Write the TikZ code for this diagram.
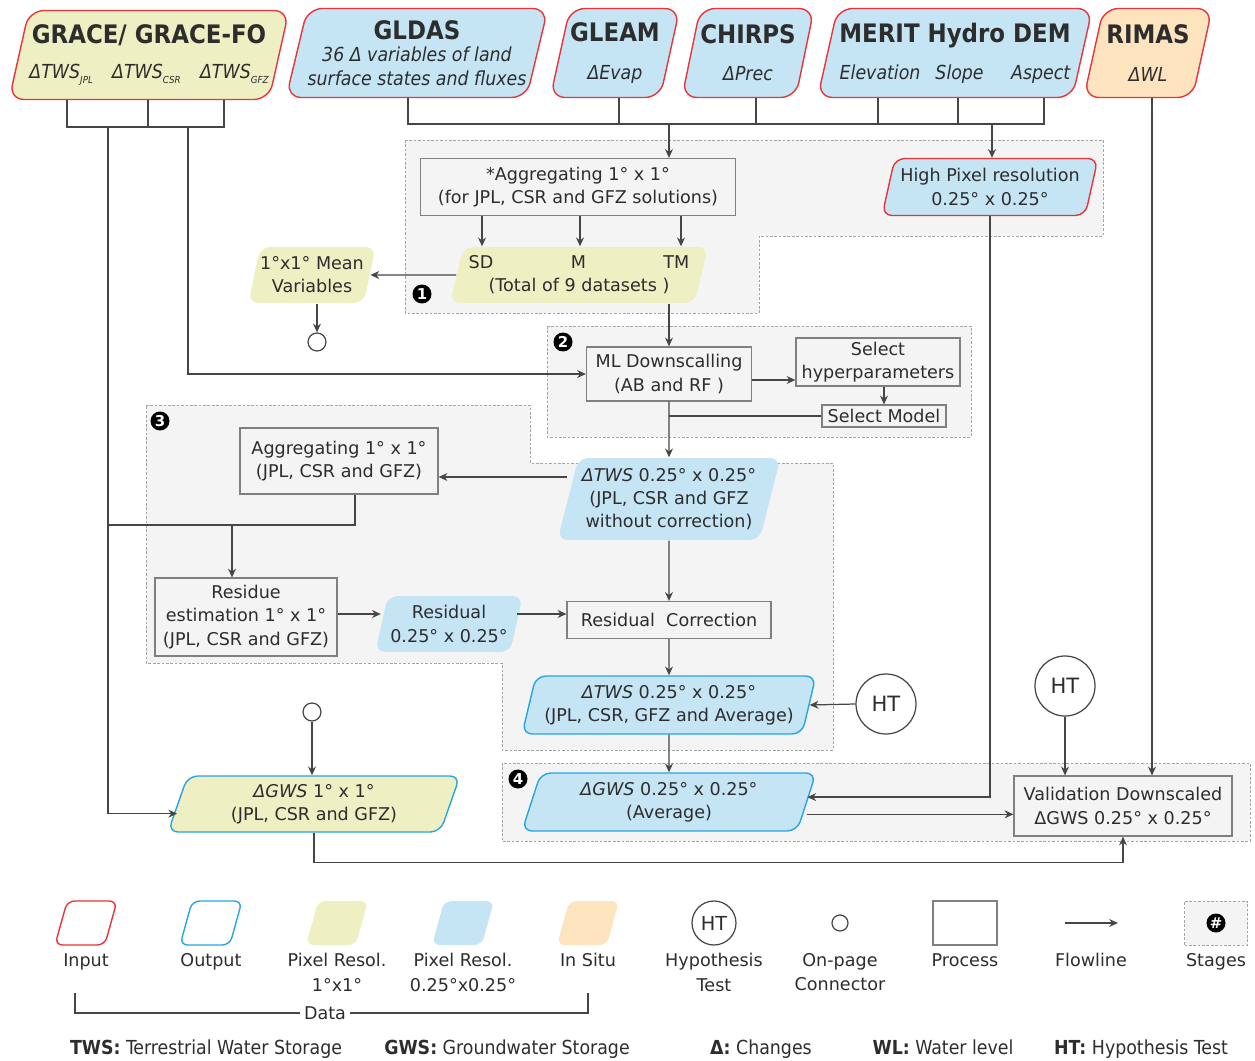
\documentclass[tikz,border=0pt]{standalone}
\usepackage{fontspec}
\setmainfont{DejaVu Sans}
\newfontfamily\condfont{DejaVu Sans Condensed}
\usepackage{tikz}
\usetikzlibrary{shapes.geometric, arrows.meta, positioning, calc}
\definecolor{inred}{RGB}{232,52,58}
\definecolor{outblue}{RGB}{38,166,226}
\definecolor{coarsefill}{RGB}{238,240,196}
\definecolor{finefill}{RGB}{197,229,245}
\definecolor{situfill}{RGB}{253,228,191}
\definecolor{procgray}{RGB}{128,128,128}
\definecolor{stagefill}{RGB}{244,244,244}
\definecolor{stagegray}{RGB}{165,165,165}
\definecolor{linegray}{RGB}{70,70,70}
\definecolor{textdark}{RGB}{45,45,45}

\newcommand{\bodyfont}{\fontsize{10}{13.2}\selectfont}
\newcommand{\titlefont}{\condfont\bfseries\fontsize{14.5}{17}\selectfont}
\newcommand{\subfont}{\condfont\itshape\fontsize{11}{13.2}\selectfont}
\newcommand{\legfont}{\condfont\fontsize{11}{13}\selectfont}
\newcommand{\solsub}[1]{\raisebox{-0.45ex}{\fontsize{5.5}{6}\selectfont #1}}

\begin{document}
\begin{tikzpicture}[
    x=0.02cm, y=-0.02cm,
    every node/.style={text=textdark, font=\bodyfont},
    datashape/.style={trapezium, trapezium left angle=72, trapezium right angle=108, trapezium stretches=true, rounded corners=2mm, align=center, inner sep=0pt, line width=0.8pt},
    topshape/.style={datashape, draw=inred, rounded corners=3mm, minimum height=1.78cm},
    inshape/.style={datashape, draw=inred},
    outshape/.style={datashape, draw=outblue},
    legshape/.style={rounded corners=1.5mm, inner sep=2pt, minimum width=1.24cm, minimum height=0.88cm},
    process/.style={rectangle, draw=procgray, line width=0.7pt, align=center, inner sep=1pt},
    hyptest/.style={circle, draw=linegray, line width=0.7pt, minimum size=1.2cm, inner sep=0pt, font=\fontsize{12}{14}\selectfont},
    pageconn/.style={circle, draw=linegray, line width=0.7pt, minimum size=0.36cm, inner sep=0pt},
    badge/.style={circle, fill=black, text=white, font=\bfseries\fontsize{8.5}{9}\selectfont, minimum size=0.38cm, inner sep=0pt},
    stage/.style={draw=stagegray, fill=stagefill, line width=0.5pt, dash pattern=on 1.5pt off 1pt},
    flow/.style={-{Stealth[length=5pt, width=4.5pt]}, line width=0.7pt, draw=linegray},
    link/.style={line width=0.7pt, draw=linegray},
    leglabel/.style={align=center, font=\fontsize{10}{14}\selectfont},
    abbrev/.style={anchor=base, font=\legfont}
]
\useasboundingbox (0,0) rectangle (1255,1061);

% Stages
\draw[stage] (405,140) -- (1103,140) -- (1103,236) -- (759,236) -- (759,313) -- (405,313) -- cycle;
\draw[stage] (547,326) rectangle (971,437);
\draw[stage] (146,405) -- (530,405) -- (530,463) -- (833,463) -- (833,750) -- (502,750) -- (502,663) -- (146,663) -- cycle;
\draw[stage] (502,763) rectangle (1250,841);
\node[badge] (badge1) at (422,294) {1};
\node[badge] (badge2) at (563,342) {2};
\node[badge] (badge3) at (160,421) {3};
\node[badge] (badge4) at (518,779) {4};

% Input data
\node[topshape, fill=coarsefill, minimum width=5.6cm] (grace) at (149,55) {{\titlefont GRACE/ GRACE-FO}\\[7pt]{\subfont ΔTWS\solsub{JPL}\quad ΔTWS\solsub{CSR}\quad ΔTWS\solsub{GFZ}}};
\node[topshape, fill=finefill, minimum width=5.24cm] (gldas) at (417,53) {{\titlefont GLDAS}\\[-0.5pt]{\subfont 36 Δ variables of land}\\[0.5pt]{\subfont surface states and fluxes}};
\node[topshape, fill=finefill, minimum width=2.6cm] (gleam) at (615,53) {{\titlefont GLEAM}\\[8pt]{\subfont ΔEvap}};
\node[topshape, fill=finefill, minimum width=2.58cm] (chirps) at (748,53) {{\titlefont CHIRPS}\\[8pt]{\subfont ΔPrec}};
\node[topshape, fill=finefill, minimum width=5.5cm] (merit) at (955,53) {{\titlefont MERIT Hydro DEM}\\[8pt]{\subfont Elevation\hspace{0.3cm}Slope\hspace{0.55cm}Aspect}};
\node[topshape, fill=situfill, minimum width=2.58cm] (rimas) at (1148,53) {{\titlefont RIMAS}\\[8pt]{\subfont ΔWL}};

% Stage 1
\node[process, minimum width=6.3cm, minimum height=1.14cm] (agg1) at (578,187) {*Aggregating 1° x 1°\\(for JPL, CSR and GFZ solutions)};
\node[inshape, fill=finefill, minimum width=4.32cm, minimum height=1.14cm] (highres) at (990,187) {High Pixel resolution\\0.25° x 0.25°};
\node[datashape, fill=coarsefill, minimum width=5.16cm, minimum height=1.12cm] (sdmtm) at (579,275) {SD\hspace{1.55cm}M\hspace{1.55cm}TM\\(Total of 9 datasets )};
\node[datashape, fill=coarsefill, minimum width=2.56cm, minimum height=1.12cm] (meanvar) at (312,275) {1°x1° Mean\\Variables};
\node[pageconn] (conn1) at (317,342) {};

% Stage 2
\node[process, minimum width=3.3cm, minimum height=1.08cm] (mldown) at (669,374) {ML Downscalling\\(AB and RF )};
\node[process, minimum width=3.28cm, minimum height=0.96cm] (hyper) at (878,362) {Select\\hyperparameters};
\node[process, minimum width=2.48cm, minimum height=0.44cm] (selmodel) at (884,416) {Select Model};

% Stage 3
\node[datashape, fill=finefill, minimum width=4.46cm, minimum height=1.64cm] (twsraw) at (669,499) {\textit{ΔTWS} 0.25° x 0.25°\\(JPL, CSR and GFZ\\without correction)};
\node[process, minimum width=3.96cm, minimum height=1.32cm] (agg2) at (339,461) {Aggregating 1° x 1°\\(JPL, CSR and GFZ)};
\node[process, minimum width=3.64cm, minimum height=1.56cm] (residue) at (246,617) {Residue\\estimation 1° x 1°\\(JPL, CSR and GFZ)};
\node[datashape, fill=finefill, minimum width=2.96cm, minimum height=1.12cm] (resid) at (449,624) {Residual\\0.25° x 0.25°};
\node[process, minimum width=4.08cm, minimum height=0.74cm] (rescorr) at (669,620) {Residual\ \ Correction};

% Stage 4 and checks
\node[outshape, fill=finefill, minimum width=5.88cm, minimum height=1.16cm] (twsfinal) at (669,705) {\textit{ΔTWS} 0.25° x 0.25°\\(JPL, CSR, GFZ and Average)};
\node[hyptest] (ht1) at (886,704) {HT};
\node[outshape, fill=finefill, minimum width=5.88cm, minimum height=1.16cm] (gwsfine) at (669,802) {\textit{ΔGWS} 0.25° x 0.25°\\(Average)};
\node[hyptest] (ht2) at (1065,686) {HT};
\node[process, minimum width=4.36cm, minimum height=1.2cm] (valid) at (1123,806) {Validation Downscaled\\ΔGWS 0.25° x 0.25°};
\node[outshape, fill=coarsefill, minimum width=5.84cm, minimum height=1.12cm] (gwscoarse) at (314,804) {\textit{ΔGWS} 1° x 1°\\(JPL, CSR and GFZ)};
\node[pageconn] (conn2) at (312,712) {};

% GRACE links
\coordinate (gL) at (67,127);
\coordinate (gM) at (148,127);
\coordinate (gR) at (224,127);
\coordinate (gA) at (108,127);
\coordinate (gB) at (188,127);
\coordinate (gwsleft) at ([yshift=-5.5pt]gwscoarse.west);
\draw[link] (gL |- grace.south) -- (gL) -- (gR) -- (gR |- grace.south);
\draw[link] (gM |- grace.south) -- (gM);
\draw[flow] (gB) |- (mldown.west);
\draw[flow] (gA) |- (gwsleft);
\coordinate (aggdrop) at (355,525);
\coordinate (resdrop) at (232,525);
\draw[link] (aggdrop |- agg2.south) -- (aggdrop) -- (gA |- aggdrop);
\draw[flow] (resdrop) -- (resdrop |- residue.north);

% Ancillary data links
\coordinate (dL) at (408,124);
\coordinate (dR) at (1044,124);
\draw[link] (dL |- gldas.south) -- (dL) -- (dR) -- (dR |- merit.south);
\foreach \xx/\src in {619/gleam, 756/chirps, 878/merit, 958/merit} {
    \coordinate (drop) at (\xx,124);
    \draw[link] (drop |- \src.south) -- (drop);
}
\coordinate (aggin) at (669,124);
\coordinate (hrin) at (992,124);
\coordinate (wlx) at (1152,98);
\draw[flow] (aggin) -- (aggin |- agg1.north);
\draw[flow] (hrin) -- (hrin |- highres.north);
\draw[flow] (wlx |- rimas.south) -- (wlx |- valid.north);

% Stage 1 links
\foreach \xx in {482,580,681} {
    \coordinate (split) at (\xx,0);
    \draw[flow] (split |- agg1.south) -- (split |- sdmtm.north);
}
\draw[flow] (sdmtm.west) -- (meanvar.east);
\draw[flow] (conn1 |- meanvar.south) -- (conn1.north);
\draw[flow] (mldown.north |- sdmtm.south) -- (mldown.north);

% Stage 2 links
\coordinate (hyprow) at (0,380);
\draw[flow] (mldown.east |- hyprow) -- (hyper.west |- hyprow);
\draw[flow] (selmodel.north |- hyper.south) -- (selmodel.north);
\draw[link] (selmodel.west) -- (selmodel.west -| mldown.south);
\draw[flow] (mldown.south) -- (twsraw.north);

% Stage 3 links
\coordinate (aggrow) at (0,477);
\draw[flow] (twsraw.west |- aggrow) -- (agg2.east |- aggrow);
\coordinate (resrow) at (0,614);
\draw[flow] (residue.east |- resrow) -- (resid.west |- resrow);
\draw[flow] (resid.east |- resrow) -- (rescorr.west |- resrow);
\draw[flow] (twsraw.south) -- (rescorr.north);
\draw[flow] (rescorr.south) -- (twsfinal.north);
\draw[flow] (ht1.west) -- (twsfinal.east);
\draw[flow] (twsfinal.south) -- (gwsfine.north);

% Stage 4 links
\coordinate (gwsin) at ([yshift=2.8pt]gwsfine.east);
\coordinate (gwsout) at ([yshift=-7pt]gwsfine.east);
\draw[flow] (highres.south) |- (gwsin);
\draw[flow] (gwsout) -- (gwsout -| valid.west);
\draw[flow] (ht2.south) -- (ht2.south |- valid.north);
\draw[flow] (conn2.south) -- (conn2.south |- gwscoarse.north);
\draw[flow] (gwscoarse.south) -- ++(0,30) -| (valid.south);

% Legend
\node[inshape, legshape, fill=white] (legin) at (86,923) {};
\node[outshape, legshape, fill=white] (legout) at (211,923) {};
\node[datashape, legshape, fill=coarsefill] (legcoarse) at (337,923) {};
\node[datashape, legshape, fill=finefill] (legfine) at (463,923) {};
\node[datashape, legshape, fill=situfill] (legsitu) at (588,923) {};
\node[hyptest, minimum size=0.88cm, font=\fontsize{11}{13}\selectfont] (leght) at (714,923) {HT};
\node[pageconn, minimum size=0.32cm] (legconn) at (840,923) {};
\node[process, minimum width=1.28cm, minimum height=0.88cm] (legproc) at (965,923) {};
\coordinate (flowA) at (1065,923);
\coordinate (flowB) at (1118,923);
\draw[flow] (flowA) -- (flowB);
\node[stage, minimum width=1.26cm, minimum height=0.88cm] (legstage) at (1216,923) {};
\node[badge] (legbadge) at (legstage) {\#};

\node[leglabel, anchor=north] (lblin) at (86,947) {Input};
\node[leglabel, anchor=north] (lblout) at (211,947) {Output};
\node[leglabel, anchor=north] (lblcoarse) at (337,947) {Pixel Resol.\\1°x1°};
\node[leglabel, anchor=north] (lblfine) at (463,947) {Pixel Resol.\\0.25°x0.25°};
\node[leglabel, anchor=north] (lblsitu) at (588,947) {In Situ};
\node[leglabel, anchor=north] (lblht) at (714,947) {Hypothesis\\Test};
\node[leglabel, anchor=north] (lblconn) at (840,947) {On-page\\Connector};
\node[leglabel, anchor=north] (lblproc) at (965,947) {Process};
\node[leglabel, anchor=north] (lblflow) at (1091,947) {Flowline};
\node[leglabel, anchor=north] (lblstage) at (1216,947) {Stages};

\node[leglabel, fill=white, inner sep=2pt] (datalbl) at (325,1013) {Data};
\coordinate (dataL) at (75,993);
\coordinate (dataR) at (588,993);
\draw[link, line width=0.6pt] (dataL) |- (datalbl.west);
\draw[link, line width=0.6pt] (dataR) |- (datalbl.east);

% Abbreviations
\node[abbrev] (deftws) at (206,1054) {\textbf{TWS:} Terrestrial Water Storage};
\node[abbrev] (defgws) at (507,1054) {\textbf{GWS:} Groundwater Storage};
\node[abbrev] (defdelta) at (761,1054) {\textbf{Δ:} Changes};
\node[abbrev] (defwl) at (943,1054) {\textbf{WL:} Water level};
\node[abbrev] (defht) at (1141,1054) {\textbf{HT:} Hypothesis Test};
\end{tikzpicture}
\end{document}
